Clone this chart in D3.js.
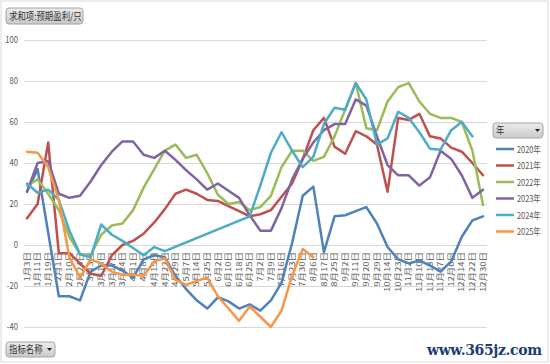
<!DOCTYPE html>
<html>
<head>
<meta charset="utf-8">
<script src="https://cdn.jsdelivr.net/npm/d3@7"></script>
<style>
  html, body { margin: 0; padding: 0; background: #fff; }
  svg text { font-family: "Noto Sans CJK SC", "Noto Sans", sans-serif; }
</style>
</head>
<body>
<svg id="chart" width="550" height="364"></svg>
<script>
// category axis (dates)
var categories = ["1月3日","1月11日","1月19日","2月1日","2月10日","2月24日","3月3日","3月10日","3月17日","3月24日",
  "4月1日","4月8日","4月15日","4月22日","4月29日","5月7日","5月14日","5月25日","6月2日","6月10日",
  "6月18日","6月25日","7月2日","7月9日","7月16日","7月23日","7月30日","8月6日","8月17日","8月25日",
  "9月2日","9月11日","9月20日","9月29日","10月14日","10月23日","11月2日","11月10日","11月18日","11月27日",
  "12月6日","12月14日","12月22日","12月30日"];

var years = ["2020年","2021年","2022年","2023年","2024年","2025年"];

var v2020 = [26,37,6,-25,-25,-27,-13,-10,-10,-12.5,-16,-7,-5,-6,-15,-21.5,-27,-31,-25.5,-27.5,
  -31,-29,-32,-27,-18.5,1,24,28.5,-3.5,14,14.5,16.5,18.5,10.5,-1,-7,-9,-7.5,-10,-13,-8,4,12,14];
var v2021 = [13,20,50,-4,-4,-9,-14,-15,-5,0,2,5.5,11,17.5,25,27,25,22,21.5,19,
  16.5,14,15,17,23.5,30,42,56,62,48,44.5,55.5,53,49,26,62,61,64,53,52,47.5,45.5,40,34];
var v2022 = [29,32,25,17,4,-4.5,-5,5,9.5,10.5,17,28,37,46,49,42.5,44,35,24.5,20,
  21,17,18.5,24,38,46,46,41,43,53,66,79,57,56,70,77,79,70,64,62,62,60,46,19.5];
var v2023 = [26,40,41,25,23,24,31,39,45.5,50.5,50.5,44,42.5,46,41.5,36.5,32,27,30,26.5,
  23,14.5,7,7,18,32,42,50,56,59,59,71,68,53,39,34,34,29,33,46,42,34,23,27];
var v2024 = [30,25.5,27,22,7,-4.5,-6,10,5,2,-1.5,-5,-1,-3,null,null,null,null,null,null,
  null,14,29,45,55,46,38,43,59,67,66,79,71,49,52,65,62,55,47,46.5,56,60,53,null];
var v2025 = [45.5,45,38,22,-6,-16,-7,-9,-13,-14.5,-14.5,-15,-8,-6.5,-17,-19.5,-17.5,-16,-25,-31,
  -37,-30,-35,-40,-32,-15,-2,-6,null,null,null,null,null,null,null,null,null,null,null,null,
  null,null,null,null];

var yTicks = [100, 80, 60, 40, 20, 0, -20, -40];
var colors = ["#4F81BD", "#C0504D", "#9BBB59", "#8064A2", "#4BACC6", "#F79646"];

var series = [v2020, v2021, v2022, v2023, v2024, v2025];

var svg = d3.select("#chart");

// gradient for the pivot buttons
var grad = svg.append("defs").append("linearGradient")
    .attr("id", "btn").attr("x1", 0).attr("y1", 0).attr("x2", 0).attr("y2", 1);
grad.append("stop").attr("offset", "0%").attr("stop-color", "#ececec");
grad.append("stop").attr("offset", "100%").attr("stop-color", "#c9c9c9");

// outer frame
svg.append("rect")
    .attr("x", 1).attr("y", 1).attr("width", 547).attr("height", 361)
    .style("fill", "#fff").style("stroke", "#d9d9d9");

var x = d3.scalePoint()
    .domain(categories)
    .range([27, 483]);

var y = d3.scaleLinear()
    .domain([-40, 100])
    .range([327, 40]);

// gridlines
svg.append("g")
    .selectAll("line")
    .data(yTicks)
    .enter()
    .append("line")
    .attr("x1", 24).attr("x2", 487)
    .attr("y1", function (d) { return y(d) + 0.5; })
    .attr("y2", function (d) { return y(d) + 0.5; })
    .style("stroke", "#d9d9d9")
    .style("stroke-width", 1);

// y tick labels
svg.append("g")
    .selectAll("text")
    .data(yTicks)
    .enter()
    .append("text")
    .attr("transform", function (d) { return "translate(18," + (y(d) + 3) + ") scale(0.85,1)"; })
    .attr("text-anchor", "end")
    .style("font-size", "9px")
    .style("fill", "#595959")
    .text(function (d) { return d; });

// category labels, rotated, sitting under the zero line
svg.append("g")
    .selectAll("text")
    .data(categories)
    .enter()
    .append("text")
    .attr("transform", function (d) { return "translate(" + x(d) + ",252) rotate(-90) scale(1,0.8)"; })
    .attr("text-anchor", "end")
    .attr("dy", "0.35em")
    .style("font-size", "9.5px")
    .style("fill", "#595959")
    .text(function (d) { return d; });

// lines (gaps are bridged like excel does)
var line = d3.line()
    .x(function (d) { return x(d.c); })
    .y(function (d) { return y(d.v); });

series.forEach(function (vals, k) {
    var pts = categories.map(function (c, i) { return { c: c, v: vals[i] }; })
        .filter(function (d) { return d.v != null; });
    svg.append("path")
        .datum(pts)
        .attr("d", line)
        .style("fill", "none")
        .style("stroke", colors[k])
        .style("stroke-width", 2.5)
        .style("stroke-linejoin", "round")
        .style("stroke-linecap", "round");
});

// pivot buttons
function button(bx, by, bw, bh, label, arrow) {
    var g = svg.append("g");
    g.append("rect")
        .attr("x", bx).attr("y", by).attr("width", bw).attr("height", bh)
        .attr("rx", 3)
        .style("fill", "url(#btn)")
        .style("stroke", "#a6a6a6");
    g.append("text")
        .attr("transform", "translate(" + (bx + 3) + "," + (by + bh - 4) + ") scale(0.84,1)")
        .style("font-size", "10px")
        .style("fill", "#333")
        .text(label);
    if (arrow) {
        g.append("path")
            .attr("d", "M" + (bx + bw - 8) + "," + (by + bh / 2 - 1.5) + "l5,0l-2.5,3z")
            .style("fill", "#222");
    }
}
button(6, 8, 77, 16, "求和项:预期盈利/只", false);
button(6, 342, 49, 15, "指标名称", true);
button(493, 123, 50, 15, "年", true);

// legend
var legend = svg.append("g")
    .selectAll("g")
    .data(years)
    .enter()
    .append("g")
    .attr("transform", function (d, i) { return "translate(0," + (149 + i * 16.5) + ")"; });

legend.append("line")
    .attr("x1", 496).attr("x2", 514)
    .style("stroke", function (d, i) { return colors[i]; })
    .style("stroke-width", 2.5);

legend.append("text")
    .attr("transform", "translate(517,3.5) scale(0.82,1)")
    .style("font-size", "9px")
    .style("fill", "#595959")
    .text(function (d) { return d; });

// watermark
svg.append("text")
    .attr("x", 427).attr("y", 355)
    .attr("textLength", 115)
    .style("font-family", "'DejaVu Serif', serif")
    .style("font-weight", "bold")
    .style("font-size", "14px")
    .style("fill", "#1c3b78")
    .text("www.365jz.com");
</script>
</body>
</html>
